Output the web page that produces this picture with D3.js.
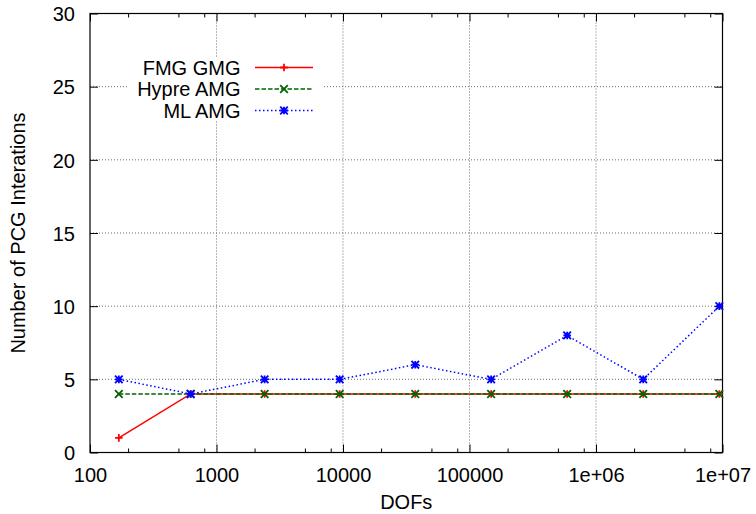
<!DOCTYPE html>
<html>
<head>
<meta charset="utf-8">
<script src="https://cdn.jsdelivr.net/npm/d3@7/dist/d3.min.js"></script>
<style>
  html, body { margin: 0; padding: 0; background: #fff; }
  svg { display: block; }
  text { font-family: "Liberation Sans", Arial, Helvetica, sans-serif; fill: #000; }
</style>
</head>
<body>
<svg id="chart" width="756" height="514"></svg>
<script>
// ---- data ----
const dofs = [169, 625, 2401, 9409, 37249, 148225, 591361, 2362369, 9443329];
const fmgGmg = [1, 4, 4, 4, 4, 4, 4, 4, 4];
const hypreAmg = [4, 4, 4, 4, 4, 4, 4, 4, 4];
const mlAmg = [5, 4, 5, 5, 6, 5, 8, 5, 10];
const seriesNames = ["FMG GMG", "Hypre AMG", "ML AMG"];
const xTickValues = [100, 1000, 10000, 100000, 1000000, 10000000];
const xTickLabels = ["100", "1000", "10000", "100000", "1e+06", "1e+07"];
const xMinorTicks = [200, 500, 800, 2000, 5000, 8000, 20000, 50000, 80000,
                     200000, 500000, 800000, 2000000, 5000000, 8000000];
const yTickValues = [0, 5, 10, 15, 20, 25, 30];
const xTitle = "DOFs";
const yTitle = "Number of PCG Interations";

// ---- layout ----
const L = 90, R = 722.5, T = 13.5, B = 452.5;
const svg = d3.select("#chart");
const x = d3.scaleLog().domain([100, 1e7]).range([L, R]);
const y = d3.scaleLinear().domain([0, 30]).range([B, T]);
const fs = 20;

// grid
const grid = svg.append("g").attr("stroke", "#6e6e6e").attr("stroke-width", 1)
  .attr("stroke-dasharray", "1,2").attr("fill", "none");
xTickValues.slice(1, -1).forEach(v => {
  grid.append("line").attr("x1", x(v)).attr("x2", x(v)).attr("y1", T).attr("y2", B);
});
yTickValues.slice(1, -1).forEach(v => {
  grid.append("line").attr("x1", L).attr("x2", R).attr("y1", y(v)).attr("y2", y(v));
});

// axes (ticks inward, mirrored)
const fmt = d => xTickLabels[xTickValues.indexOf(d)];
const axB = svg.append("g").attr("transform", `translate(0,${B})`)
  .call(d3.axisBottom(x).tickValues(xTickValues).tickFormat(fmt).tickSize(-8).tickPadding(15));
const axT = svg.append("g").attr("transform", `translate(0,${T})`)
  .call(d3.axisTop(x).tickValues(xTickValues).tickFormat("").tickSize(-8));
const axBm = svg.append("g").attr("transform", `translate(0,${B})`)
  .call(d3.axisBottom(x).tickValues(xMinorTicks).tickFormat("").tickSize(-4));
const axTm = svg.append("g").attr("transform", `translate(0,${T})`)
  .call(d3.axisTop(x).tickValues(xMinorTicks).tickFormat("").tickSize(-4));
const axL = svg.append("g").attr("transform", `translate(${L},0)`)
  .call(d3.axisLeft(y).tickValues(yTickValues).tickSize(-8).tickPadding(15));
const axR = svg.append("g").attr("transform", `translate(${R},0)`)
  .call(d3.axisRight(y).tickValues(yTickValues).tickFormat("").tickSize(-8));
[axB, axT, axBm, axTm, axL, axR].forEach(a => {
  a.select(".domain").remove();
  a.selectAll(".tick line").attr("stroke", "#000").attr("stroke-width", 1);
  a.selectAll("text").style("font-size", fs + "px")
    .style("font-family", '"Liberation Sans", Arial, sans-serif').attr("fill", "#000");
});
axL.selectAll("text").attr("dy", "0.36em");

// border
svg.append("rect").attr("x", L).attr("y", T).attr("width", R - L).attr("height", B - T)
  .attr("fill", "none").attr("stroke", "#000").attr("stroke-width", 1.2);

// titles
svg.append("text").attr("x", (L + R) / 2).attr("y", 509).attr("text-anchor", "middle")
  .style("font-size", fs + "px").text(xTitle);
svg.append("text").attr("transform", "translate(25,233) rotate(-90)").attr("text-anchor", "middle")
  .style("font-size", fs + "px").text(yTitle);

// markers
function marker(g, type, cx, cy, color) {
  const s = 3.8;
  const p = d3.path();
  if (type === "plus" || type === "star") {
    p.moveTo(cx - s, cy); p.lineTo(cx + s, cy);
    p.moveTo(cx, cy - s); p.lineTo(cx, cy + s);
  }
  if (type === "cross" || type === "star") {
    p.moveTo(cx - s, cy - s); p.lineTo(cx + s, cy + s);
    p.moveTo(cx - s, cy + s); p.lineTo(cx + s, cy - s);
  }
  g.append("path").attr("d", p.toString()).attr("stroke", color).attr("stroke-width", 1.8).attr("fill", "none");
}

const styles = [
  { vals: fmgGmg, color: "#ff0000", dash: null, m: "plus" },
  { vals: hypreAmg, color: "#006400", dash: "4.5,2", m: "cross" },
  { vals: mlAmg, color: "#0000ff", dash: "1.5,2.5", m: "star" }
];

// legend background
svg.append("rect").attr("x", 128).attr("y", 57).attr("width", 196).attr("height", 64)
  .attr("fill", "#fff");

const line = d3.line().x(d => x(d[0])).y(d => y(d[1]));
styles.forEach((st, i) => {
  const g = svg.append("g");
  const pts = dofs.map((d, j) => [d, st.vals[j]]);
  const path = g.append("path").attr("d", line(pts)).attr("fill", "none")
    .attr("stroke", st.color).attr("stroke-width", 1.5);
  if (st.dash) path.attr("stroke-dasharray", st.dash);
  pts.forEach(p => marker(g, st.m, x(p[0]), y(p[1]), st.color));

  // legend
  const ly = 67.5 + i * 21.5;
  svg.append("text").attr("x", 240.5).attr("y", ly + 7).attr("text-anchor", "end")
    .style("font-size", fs + "px").text(seriesNames[i]);
  const ll = svg.append("line").attr("x1", 255).attr("x2", 313).attr("y1", ly).attr("y2", ly)
    .attr("stroke", st.color).attr("stroke-width", 1.5);
  if (st.dash) ll.attr("stroke-dasharray", st.dash);
  marker(svg, st.m, 284, ly, st.color);
});
</script>
</body>
</html>
